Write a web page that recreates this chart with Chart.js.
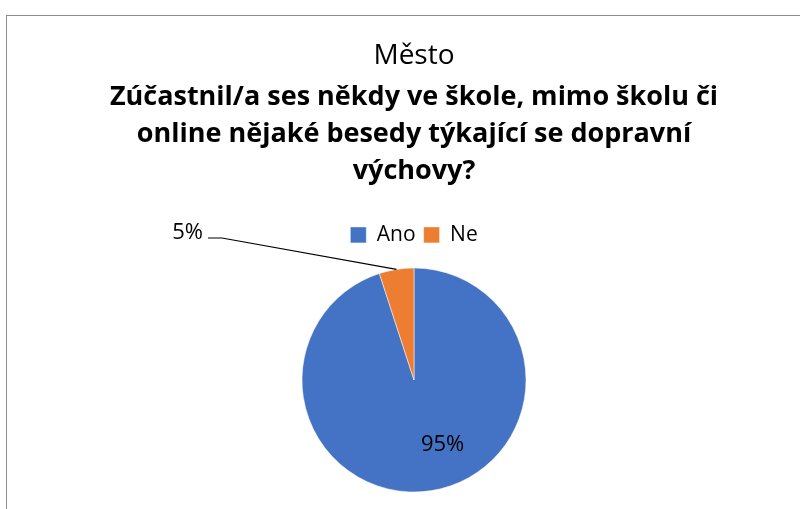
<!DOCTYPE html>
<html>
<head>
<meta charset="utf-8">
<script src="https://cdn.jsdelivr.net/npm/chart.js@4.4.1/dist/chart.umd.min.js"></script>
<style>
  html, body { margin: 0; padding: 0; background: #fff; width: 800px; height: 509px; overflow: hidden; }
  #frame { position: absolute; left: 6px; top: 15px; width: 900px; height: 600px; border-left: 1px solid #8c8c8c; border-top: 1px solid #8c8c8c; }
  #c { position: absolute; left: 6px; top: 15px; }
</style>
</head>
<body>
<div id="frame"></div>
<canvas id="c" width="816" height="494"></canvas>
<script>
const chartTitle = "Město";
const chartSubtitle = ["Zúčastnil/a ses někdy ve škole, mimo školu či", "online nějaké besedy týkající se dopravní", "výchovy?"];
const categories = ["Ano", "Ne"];
const values = [95, 5];
const sliceColors = ["#4472C4", "#ED7D31"];

const labelPlugin = {
  id: 'sliceLabels',
  afterDatasetsDraw(chart) {
    const ctx = chart.ctx;
    const meta = chart.getDatasetMeta(0);
    const total = values.reduce((a, b) => a + b, 0);
    ctx.save();
    ctx.font = '22px "Open Sans"';
    ctx.fillStyle = '#000';
    meta.data.forEach((arc, i) => {
      const p = arc.getProps(['x', 'y', 'startAngle', 'endAngle', 'outerRadius'], true);
      const mid = (p.startAngle + p.endAngle) / 2;
      const txt = Math.round(values[i] / total * 100) + '%';
      if (values[i] / total > 0.2) {
        const a = mid - 0.26;
        const r = p.outerRadius * 0.63;
        ctx.textAlign = 'center';
        ctx.textBaseline = 'middle';
        ctx.fillText(txt, p.x + Math.cos(a) * r, p.y + Math.sin(a) * r);
      } else {
        const ex = p.x + Math.cos(mid) * p.outerRadius;
        const ey = p.y + Math.sin(mid) * p.outerRadius;
        const elbowX = ex - 174.5, elbowY = ey - 31.4;
        const endX = ex - 188.5;
        ctx.strokeStyle = '#000';
        ctx.lineWidth = 1.2;
        ctx.beginPath();
        ctx.moveTo(ex, ey);
        ctx.lineTo(elbowX, elbowY);
        ctx.lineTo(endX, elbowY);
        ctx.stroke();
        ctx.textAlign = 'right';
        ctx.textBaseline = 'middle';
        ctx.fillText(txt, endX - 5, elbowY - 5);
      }
    });
    ctx.restore();
  }
};

new Chart(document.getElementById('c'), {
  type: 'pie',
  data: {
    labels: categories,
    datasets: [{
      data: values,
      backgroundColor: sliceColors,
      borderColor: '#ffffff',
      borderWidth: 0.5,
      radius: 112
    }]
  },
  options: {
    responsive: false,
    animation: false,
    layout: { padding: { top: 0, bottom: 4.4, left: 0, right: 0 } },
    plugins: {
      title: {
        display: true,
        text: chartTitle,
        color: '#000',
        font: { family: '"Open Sans"', size: 28, weight: 'normal', lineHeight: 1.2 },
        padding: { top: 24.3, bottom: 0 }
      },
      subtitle: {
        display: true,
        text: chartSubtitle,
        color: '#000',
        font: { family: '"Open Sans"', size: 27, weight: 'bold', lineHeight: 37 / 27 },
        padding: { top: 5.8, bottom: 26.7 }
      },
      legend: {
        display: true,
        position: 'top',
        labels: {
          boxWidth: 16,
          boxHeight: 16,
          padding: 8,
          color: '#000',
          font: { family: '"Open Sans"', size: 21 }
        }
      },
      tooltip: { enabled: false }
    }
  },
  plugins: [labelPlugin]
});
</script>
</body>
</html>
